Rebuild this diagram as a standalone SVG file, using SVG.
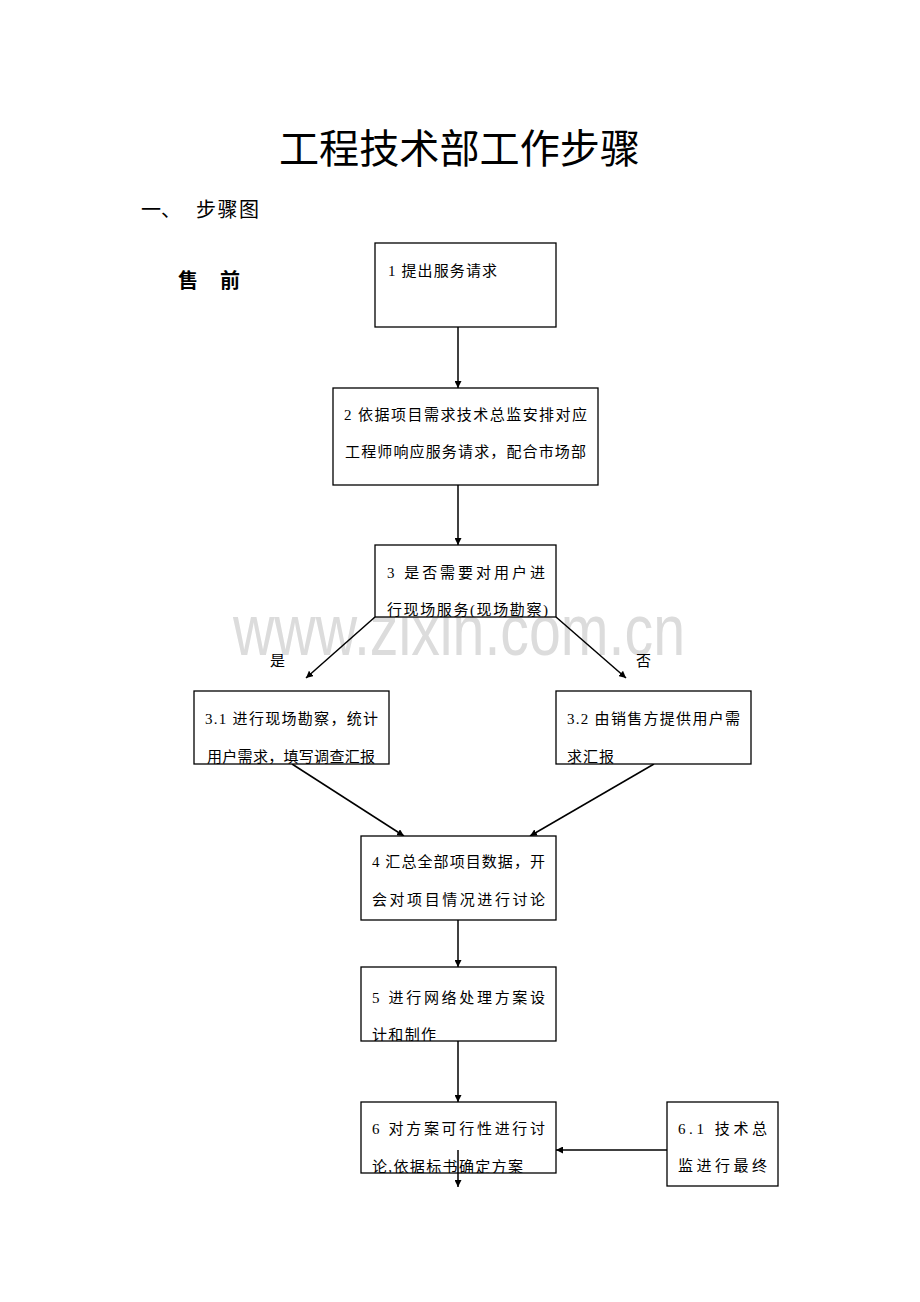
<svg xmlns="http://www.w3.org/2000/svg" width="920" height="1302" viewBox="0 0 920 1302">
<style>
.box{fill:#fff;stroke:#000;stroke-width:1.3}
.t{font-family:"Liberation Serif","Noto Sans CJK SC",serif;font-size:15px;fill:#000}
.c{stroke:#000;stroke-width:1.5;fill:none;marker-end:url(#ah)}
.h{font-family:"Noto Sans CJK SC",sans-serif;fill:#000}
</style>
<defs>
<marker id="ah" viewBox="0 0 10 10" refX="10" refY="5" markerWidth="7" markerHeight="7" orient="auto" markerUnits="userSpaceOnUse">
<path d="M0,0 L10,5 L0,10 z" fill="#000"/>
</marker>
<clipPath id="c3"><rect x="375" y="545" width="181" height="72"/></clipPath>
<clipPath id="c31"><rect x="194" y="691" width="195" height="73"/></clipPath>
<clipPath id="c32"><rect x="556" y="691" width="195" height="73"/></clipPath>
<clipPath id="c5"><rect x="361" y="967" width="195" height="74"/></clipPath>
<clipPath id="c6"><rect x="361" y="1102" width="195" height="71"/></clipPath>
</defs>
<rect width="920" height="1302" fill="#fff"/>
<text x="233" y="655" font-family="Liberation Sans,Arial,sans-serif" font-size="72" fill="#dcdcdc" textLength="452" lengthAdjust="spacingAndGlyphs">www.zixin.com.cn</text>
<g id="title">
<text class="h" x="279" y="163" font-size="40" textLength="361" lengthAdjust="spacingAndGlyphs">工程技术部工作步骤</text>
<text class="h" x="141" y="217" font-size="20">一、</text>
<text class="h" x="196" y="217" font-size="20" textLength="63">步骤图</text>
<text class="h" x="178" y="288" font-size="20" font-weight="bold">售</text>
<text class="h" x="220" y="288" font-size="20" font-weight="bold">前</text>
</g>
<g id="connectors">
<line class="c" x1="458" y1="327" x2="458" y2="388"/>
<line class="c" x1="458" y1="485" x2="458" y2="545"/>
<line class="c" x1="375" y1="617" x2="306" y2="678"/>
<line class="c" x1="556" y1="617" x2="626" y2="678"/>
<line class="c" x1="292" y1="764" x2="404" y2="836"/>
<line class="c" x1="654" y1="764" x2="530" y2="836"/>
<line class="c" x1="458" y1="920" x2="458" y2="967"/>
<line class="c" x1="458" y1="1041" x2="458" y2="1102"/>
<line class="c" x1="667" y1="1150" x2="556" y2="1150"/>
</g>
<g id="n1"><rect class="box" x="375" y="243" width="181" height="84"/>
<text class="t" x="388" y="276" textLength="109">1 提出服务请求</text></g>
<g id="n2"><rect class="box" x="333" y="388" width="265" height="97"/>
<text class="t" x="344" y="420" textLength="243">2 依据项目需求技术总监安排对应</text>
<text class="t" x="345" y="457" textLength="241">工程师响应服务请求，配合市场部</text></g>
<g id="n3"><rect class="box" x="375" y="545" width="181" height="72"/>
<g clip-path="url(#c3)"><text class="t" x="387" y="578" textLength="158">3 是否需要对用户进</text>
<text class="t" x="387" y="615" textLength="161">行现场服务(现场勘察)</text></g></g>
<g id="l1"><text class="t" x="270" y="666">是</text><text class="t" x="636" y="666">否</text></g>
<g id="n31"><rect class="box" x="194" y="691" width="195" height="73"/>
<g clip-path="url(#c31)"><text class="t" x="205" y="724" textLength="173">3.1 进行现场勘察，统计</text>
<text class="t" x="207" y="762" textLength="168">用户需求，填写调查汇报</text></g></g>
<g id="n32"><rect class="box" x="556" y="691" width="195" height="73"/>
<g clip-path="url(#c32)"><text class="t" x="567" y="724" textLength="173">3.2 由销售方提供用户需</text>
<text class="t" x="567" y="762" textLength="47">求汇报</text></g></g>
<g id="n4"><rect class="box" x="361" y="836" width="195" height="84"/>
<text class="t" x="372" y="867" textLength="173">4 汇总全部项目数据，开</text>
<text class="t" x="372" y="905" textLength="173">会对项目情况进行讨论</text></g>
<g id="n5"><rect class="box" x="361" y="967" width="195" height="74"/>
<g clip-path="url(#c5)"><text class="t" x="372" y="1003" textLength="173">5 进行网络处理方案设</text>
<text class="t" x="372" y="1040" textLength="64">计和制作</text></g></g>
<g id="n6"><rect class="box" x="361" y="1102" width="195" height="71"/>
<g clip-path="url(#c6)"><text class="t" x="372" y="1134" textLength="173">6 对方案可行性进行讨</text>
<text class="t" x="372" y="1172" textLength="151">论,依据标书确定方案</text></g></g>
<g id="n61"><rect class="box" x="667" y="1102" width="111" height="84"/>
<text class="t" x="678" y="1134" textLength="89">6.1 技术总</text>
<text class="t" x="678" y="1171" textLength="89">监进行最终</text></g>
<g id="connectors2"><line class="c" x1="458" y1="1150" x2="458" y2="1187"/></g>
</svg>
